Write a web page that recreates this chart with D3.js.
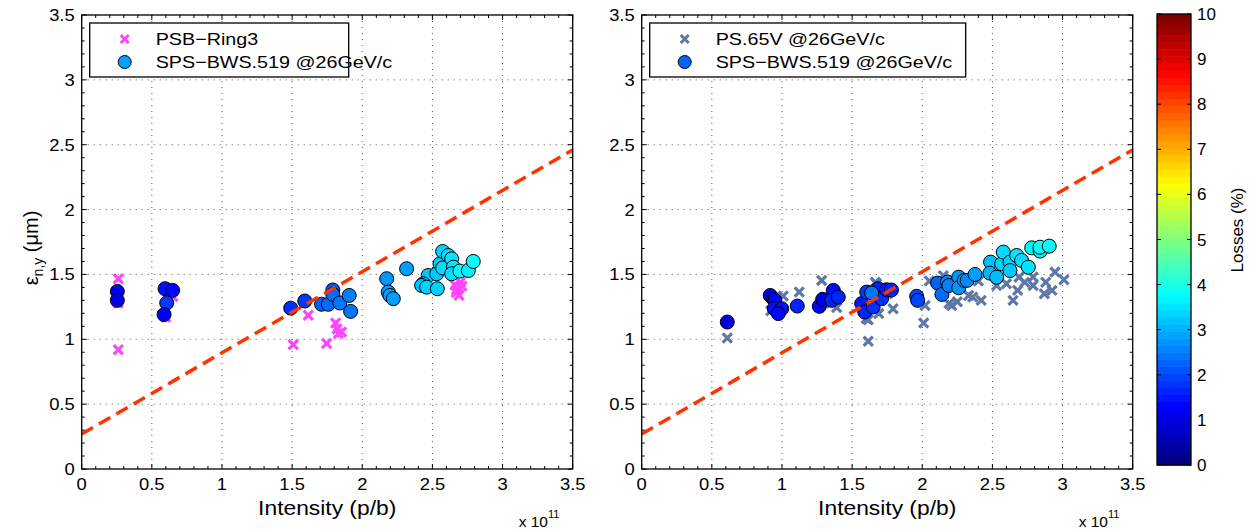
<!DOCTYPE html>
<html><head><meta charset="utf-8">
<script src="https://cdn.jsdelivr.net/npm/d3@7"></script>
<style>
body{margin:0;background:#fff}
svg{display:block;font-family:"Liberation Sans",Arial,Helvetica,sans-serif}
</style>
</head><body>
<svg id="chart" width="1250" height="529"></svg>
<script>
// Intensity in units of 1e11 p/b, normalized vertical emittance in um, losses in %
const psbRing3 = [
  [0.261,1.467],[0.261,0.92],[0.25,1.33],[0.26,1.28],[0.60,1.17],[0.65,1.33],
  [1.508,0.959],[1.615,1.185],[1.746,0.967],[1.81,1.125],[1.82,1.08],[1.853,1.056],[1.83,1.045],
  [2.67,1.36],[2.68,1.40],[2.70,1.44],[2.66,1.42],[2.69,1.34],[2.67,1.38],[2.71,1.41]
];
const spsLeft = [
  [0.254,1.369,1.1],[0.254,1.30,1.0],[0.594,1.39,1.4],[0.648,1.377,1.3],[0.606,1.28,1.8],[0.587,1.19,1.2],
  [1.49,1.24,1.7],[1.59,1.295,1.8],[1.71,1.27,2.2],[1.758,1.27,2.3],[1.79,1.38,2.1],[1.79,1.346,2.3],
  [1.84,1.28,2.4],[1.907,1.338,2.5],[1.917,1.215,2.4],
  [2.174,1.467,2.7],[2.185,1.364,2.8],[2.197,1.338,2.8],[2.221,1.313,2.8],[2.316,1.544,2.8],
  [2.47,1.492,3.2],[2.435,1.428,3.2],[2.423,1.415,3.1],[2.459,1.402,3.3],[2.535,1.39,3.3],[2.53,1.505,3.2],
  [2.554,1.582,3.3],[2.573,1.55,3.4],[2.573,1.677,3.3],[2.613,1.646,3.4],[2.637,1.62,3.5],[2.649,1.556,3.5],
  [2.637,1.505,3.4],[2.696,1.526,3.7],[2.756,1.53,3.6],[2.791,1.60,3.8]
];
const ps65V = [
  [0.61,1.01],[0.92,1.22],[1.009,1.333],[1.123,1.364],[1.283,1.454],[1.39,1.244],[1.615,1.151],[1.615,0.985],
  [1.674,1.428],[1.665,1.44],[1.69,1.198],[1.60,1.16],[1.792,1.236],[2.01,1.125],[2.02,1.26],[2.15,1.49],
  [2.19,1.275],[2.21,1.26],[2.25,1.29],[2.33,1.338],[2.36,1.325],[2.42,1.30],[2.53,1.415],[2.60,1.428],
  [2.647,1.30],[2.68,1.377],[2.69,1.479],[2.73,1.44],[2.79,1.415],[2.79,1.48],[2.87,1.351],[2.88,1.44],
  [2.925,1.377],[2.946,1.518],[3.01,1.459],[1.30,1.28],[1.70,1.30],[1.75,1.35],[0.95,1.28],[1.35,1.35],
  [2.05,1.45],[2.40,1.45]
];
const spsRight = [
  [0.61,1.133,0.9],[0.916,1.338,1.2],[0.938,1.313,1.1],[0.95,1.30,1.3],[0.945,1.236,1.4],[0.998,1.236,1.4],
  [0.974,1.198,1.3],[1.109,1.256,1.6],[1.266,1.254,1.3],[1.29,1.308,1.2],[1.366,1.377,1.4],[1.354,1.30,1.6],
  [1.401,1.325,1.6],[1.568,1.275,1.5],[1.59,1.21,1.6],[1.65,1.249,1.7],[1.604,1.364,1.8],[1.685,1.39,1.6],
  [1.71,1.313,1.7],[1.745,1.382,1.5],[1.78,1.38,1.6],[1.639,1.357,2.4],
  [1.96,1.331,2.0],[1.967,1.30,1.9],
  [2.11,1.433,2.2],[2.14,1.346,2.3],[2.18,1.441,2.6],[2.19,1.415,2.5],[2.26,1.479,2.7],[2.26,1.397,2.7],
  [2.30,1.454,2.8],[2.32,1.454,2.6],[2.376,1.50,2.8],
  [2.487,1.595,3.1],[2.482,1.51,3.0],[2.53,1.479,3.1],[2.566,1.582,3.3],[2.577,1.672,3.4],[2.625,1.595,3.3],
  [2.625,1.53,3.2],[2.673,1.646,3.5],[2.708,1.608,3.4],[2.756,1.556,3.5],[2.78,1.705,3.7],[2.84,1.68,3.6],
  [2.839,1.71,3.8],[2.905,1.718,3.7]
];
// reference line: emittance = a + b * intensity
const refLine = [[0,0.27],[3.5,2.46]];
const axisTicks = [0,0.5,1,1.5,2,2.5,3,3.5];
const tickLabels = ["0","0.5","1","1.5","2","2.5","3","3.5"];
const lossTicks = [0,1,2,3,4,5,6,7,8,9,10];
const legendLeft = ["PSB\u2212Ring3","SPS\u2212BWS.519 @26GeV/c"];
const legendRight = ["PS.65V @26GeV/c","SPS\u2212BWS.519 @26GeV/c"];

// MATLAB-style jet colormap, t in [0,1]
function jet(t){
  const c = v => Math.max(0, Math.min(1, v));
  const r = c(1.5 - Math.abs(4*t - 3)), g = c(1.5 - Math.abs(4*t - 2)), b = c(1.5 - Math.abs(4*t - 1));
  return d3.rgb(r*255, g*255, b*255).formatHex();
}
const lossColor = v => jet(v/10);

// widen glyphs slightly along the text direction
function widen(sel, k){
  sel.each(function(){
    const L = this.getComputedTextLength();
    this.setAttribute("textLength", L*k);
    this.setAttribute("lengthAdjust", "spacingAndGlyphs");
  });
}

const svg = d3.select("#chart");
const yTop = 15, yBottom = 469;
const crossColorL = "#ff44ff", crossColorR = "#5d77a6";

function crossPath(s){ return `M${-s},${-s}L${s},${s}M${-s},${s}L${s},${-s}`; }

function panel(x0, x1, crosses, circles, crossColor, legend, legendCircle, legendW){
  const x = d3.scaleLinear([0,3.5],[x0,x1]);
  const y = d3.scaleLinear([0,3.5],[yBottom,yTop]);
  const g = svg.append("g");

  // dotted grid at major ticks
  axisTicks.slice(1,-1).forEach(t=>{
    g.append("line").attr("x1",x(t)).attr("x2",x(t)).attr("y1",yTop).attr("y2",yBottom)
      .attr("stroke","#555").attr("stroke-width",1).attr("stroke-dasharray","1,5");
    g.append("line").attr("x1",x0).attr("x2",x1).attr("y1",y(t)).attr("y2",y(t))
      .attr("stroke","#555").attr("stroke-width",1).attr("stroke-dasharray","1,5");
  });

  // data
  g.append("g").selectAll("path").data(crosses).join("path")
    .attr("transform",d=>`translate(${x(d[0])},${y(d[1])})`)
    .attr("d",crossPath(4.6)).attr("stroke",crossColor).attr("stroke-width",3.2).attr("fill","none");
  g.append("g").selectAll("circle").data(circles).join("circle")
    .attr("cx",d=>x(d[0])).attr("cy",d=>y(d[1])).attr("r",7)
    .attr("fill",d=>lossColor(d[2])).attr("stroke","#000").attr("stroke-width",1);

  // reference line
  g.append("line").attr("x1",x(refLine[0][0])).attr("y1",y(refLine[0][1]))
    .attr("x2",x(refLine[1][0])).attr("y2",y(refLine[1][1]))
    .attr("stroke","#ff3300").attr("stroke-width",3.5).attr("stroke-dasharray","13,7");

  // box
  g.append("rect").attr("x",x0).attr("y",yTop).attr("width",x1-x0).attr("height",yBottom-yTop)
    .attr("fill","none").attr("stroke","#000").attr("stroke-width",1.3);

  // ticks (inward), major and minor on all four sides
  const minor = d3.range(0,3.5001,0.1);
  minor.forEach(t=>{
    const isMajor = Math.abs(t*2 - Math.round(t*2)) < 1e-6;
    const L = isMajor ? 5 : 3;
    g.append("line").attr("x1",x(t)).attr("x2",x(t)).attr("y1",yBottom).attr("y2",yBottom-L).attr("stroke","#000");
    g.append("line").attr("x1",x(t)).attr("x2",x(t)).attr("y1",yTop).attr("y2",yTop+L).attr("stroke","#000");
    g.append("line").attr("y1",y(t)).attr("y2",y(t)).attr("x1",x0).attr("x2",x0+L).attr("stroke","#000");
    g.append("line").attr("y1",y(t)).attr("y2",y(t)).attr("x1",x1).attr("x2",x1-L).attr("stroke","#000");
  });

  // tick labels
  const xt = g.append("g").selectAll("text").data(axisTicks).join("text")
    .attr("x",d=>x(d)).attr("y",yBottom+21).attr("text-anchor","middle")
    .attr("font-size",17).text((d,i)=>tickLabels[i]);
  const yt = g.append("g").selectAll("text").data(axisTicks).join("text")
    .attr("x",x0-7).attr("y",d=>y(d)+6).attr("text-anchor","end")
    .attr("font-size",17).text((d,i)=>tickLabels[i]);
  widen(xt, 1.08); widen(yt, 1.08);

  // x label and exponent
  const xl = g.append("text").attr("x",(x0+x1)/2).attr("y",515).attr("text-anchor","middle")
    .attr("font-size",20).text("Intensity (p/b)");
  widen(xl, 1.14);
  const ex = g.append("text").attr("x",x1-54).attr("y",527).attr("font-size",15.5);
  ex.append("tspan").text("x 10");
  ex.append("tspan").attr("dy",-9).attr("font-size",11).text("11");

  // legend
  const lx = x0+8, ly = 23;
  g.append("rect").attr("x",lx).attr("y",ly).attr("width",legendW).attr("height",54)
    .attr("fill","#fff").attr("stroke","#000").attr("stroke-width",1.3);
  g.append("path").attr("transform",`translate(${lx+35},${ly+16})`).attr("d",crossPath(4))
    .attr("stroke",crossColor).attr("stroke-width",3).attr("fill","none");
  g.append("circle").attr("cx",lx+35).attr("cy",ly+39).attr("r",6.5)
    .attr("fill",legendCircle).attr("stroke","#000").attr("stroke-width",1);
  const lt = g.append("g").selectAll("text").data(legend).join("text")
    .attr("x",lx+66).attr("y",(d,i)=>ly+22+i*23).attr("font-size",17).text(d=>d);
  widen(lt, 1.16);
  return g;
}

panel(81.7, 572.7, psbRing3, spsLeft, crossColorL, legendLeft, "#00a2ff", 259);
panel(641.7, 1132.7, ps65V, spsRight, crossColorR, legendRight, "#0064ff", 316);

// y-axis label
const yl = svg.append("text").attr("transform","translate(38,248) rotate(-90)")
  .attr("text-anchor","middle").attr("font-size",20);
yl.append("tspan").text("\u03b5");
yl.append("tspan").attr("dy",5).attr("font-size",14).text("n,y");
yl.append("tspan").attr("dy",-5).text(" (\u03bcm)");

// colorbar with 64 discrete jet levels
const cb = {x:1157, w:34};
const cy = d3.scaleLinear([0,10],[465,14]);
const nLev = 64;
const levels = d3.range(nLev);
svg.append("g").selectAll("rect").data(levels).join("rect")
  .attr("x",cb.x).attr("width",cb.w)
  .attr("y",i=>cy((i+1)*10/nLev)).attr("height",i=>cy(i*10/nLev)-cy((i+1)*10/nLev)+0.6)
  .attr("fill",i=>jet(i/(nLev-1)));
svg.append("rect").attr("x",cb.x).attr("y",cy(10)).attr("width",cb.w).attr("height",cy(0)-cy(10))
  .attr("fill","none").attr("stroke","#000").attr("stroke-width",1.3);
lossTicks.forEach(t=>{
  svg.append("line").attr("x1",cb.x).attr("x2",cb.x+4).attr("y1",cy(t)).attr("y2",cy(t)).attr("stroke","#000");
  svg.append("line").attr("x1",cb.x+cb.w).attr("x2",cb.x+cb.w-4).attr("y1",cy(t)).attr("y2",cy(t)).attr("stroke","#000");
});
svg.append("g").selectAll("text").data(lossTicks).join("text")
  .attr("x",cb.x+cb.w+6).attr("y",d=>cy(d)+6).attr("font-size",17).text(d=>d);
svg.append("text").attr("transform","translate(1243,230) rotate(-90)")
  .attr("text-anchor","middle").attr("font-size",17).text("Losses (%)");
</script>
</body></html>
